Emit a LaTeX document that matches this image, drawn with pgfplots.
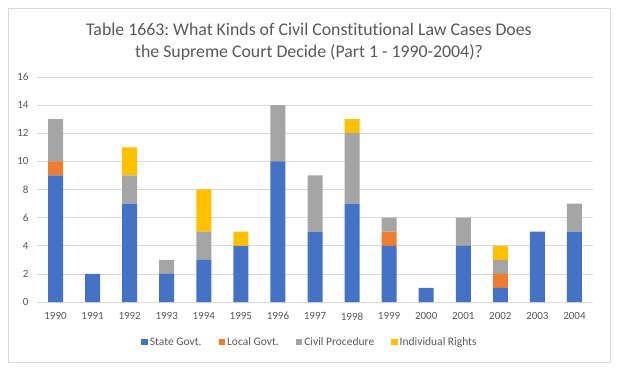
\documentclass[border=0pt]{standalone}
\usepackage{pgfplots}
\pgfplotsset{compat=1.18}
\usepackage{fontspec}
\setmainfont[Ligatures={NoCommon}]{Carlito}
\frenchspacing
\definecolor{cBlue}{HTML}{4472C4}
\definecolor{cOrange}{HTML}{ED7D31}
\definecolor{cGrey}{HTML}{A5A5A5}
\definecolor{cYellow}{HTML}{FFC000}
\definecolor{cGrid}{HTML}{D9D9D9}
\definecolor{cText}{HTML}{595959}
\begin{document}
\begin{tikzpicture}[x=1pt,y=1pt]
\fill[white] (0,0) rectangle (620,372);
\draw[cGrid, line width=0.8pt] (8,10) rectangle (610,364);
\node[text=cText, font=\fontsize{17.8}{22}\selectfont, align=center] at (309,330)
  {Table 1663: What Kinds of Civil Constitutional Law Cases Does\\the Supreme Court Decide (Part 1 - 1990-2004)?};
\begin{axis}[
  at={(37pt,70pt)}, anchor=south west,
  scale only axis, width=556pt, height=225pt,
  ybar stacked, bar width=15pt,
  xmin=-0.5, xmax=14.5, ymin=0, ymax=16,
  xtick={0,...,14},
  xticklabels={1990,1991,1992,1993,1994,1995,1996,1997,1998,1999,2000,2001,2002,2003,2004},
  ytick={0,2,...,16},
  ymajorgrids, grid style={cGrid, line width=0.6pt},
  axis line style={draw=none},
  major tick length=0pt,
  tick label style={text=cText, font=\fontsize{11}{13}\selectfont},
  /pgf/number format/assume math mode=true,
  yticklabel style={xshift=-5pt},
  xticklabel style={yshift=-7pt},
  legend columns=4,
  legend style={at={(axis description cs:0.491,-0.178)}, anchor=center, draw=none, fill=none,
    font=\fontsize{11.5}{13}\selectfont, text=cText,
    /tikz/every even column/.append style={column sep=15pt}},
  legend image code/.code={\fill[#1] (0pt,-3.2pt) rectangle (6.5pt,3.3pt);},
]
\addplot+[fill=cBlue, draw=none] coordinates {(0,9) (1,2) (2,7) (3,2) (4,3) (5,4) (6,10) (7,5) (8,7) (9,4) (10,1) (11,4) (12,1) (13,5) (14,5)};
\addplot+[fill=cOrange, draw=none] coordinates {(0,1) (1,0) (2,0) (3,0) (4,0) (5,0) (6,0) (7,0) (8,0) (9,1) (10,0) (11,0) (12,1) (13,0) (14,0)};
\addplot+[fill=cGrey, draw=none] coordinates {(0,3) (1,0) (2,2) (3,1) (4,2) (5,0) (6,4) (7,4) (8,5) (9,1) (10,0) (11,2) (12,1) (13,0) (14,2)};
\addplot+[fill=cYellow, draw=none] coordinates {(0,0) (1,0) (2,2) (3,0) (4,3) (5,1) (6,0) (7,0) (8,1) (9,0) (10,0) (11,0) (12,1) (13,0) (14,0)};
\legend{State Govt.,Local Govt.,Civil Procedure,Individual Rights}
\end{axis}
\end{tikzpicture}
\end{document}
